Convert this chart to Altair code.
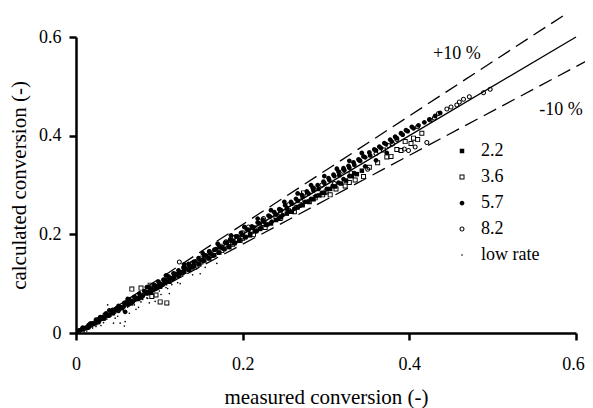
import altair as alt
import pandas as pd

# ---- data ----
series_names = ["2.2", "3.6", "5.7", "8.2", "low rate"]

s22_x = [0.008,0.018,0.028,0.039,0.050,0.061,0.072,0.084,0.095,0.107,0.118,0.130,0.142,0.154,0.166,0.178,0.190,0.203,0.215,0.228,0.240,0.253,0.266,0.279,0.292,0.305,0.318,0.331,0.343,
         0.013,0.023,0.033,0.044,0.055,0.066,0.078,0.089,0.101,0.112,0.124,0.136,0.148,0.160,0.172,0.184,0.196,0.209,0.221,0.234,0.246,0.259,0.272,0.285,0.298,0.311,0.324,0.337]
s22_y = [0.007,0.016,0.027,0.036,0.048,0.058,0.069,0.080,0.090,0.101,0.113,0.124,0.136,0.147,0.158,0.171,0.182,0.194,0.206,0.219,0.229,0.242,0.255,0.266,0.279,0.292,0.303,0.318,0.329,
         0.011,0.020,0.029,0.040,0.050,0.060,0.072,0.082,0.094,0.104,0.116,0.128,0.139,0.151,0.163,0.174,0.187,0.198,0.211,0.222,0.235,0.246,0.259,0.271,0.284,0.297,0.309,0.322]

s36_x = [0.067,0.078,0.089,0.091,0.096,0.101,0.109,0.140,0.155,0.173,0.185,0.197,0.210,0.225,0.240,0.255,0.273,0.287,0.305,0.323,0.335,0.345,0.369,0.373,0.385,0.395,0.405,0.415,0.020,0.035,0.050,0.120,0.265,0.300,
         0.150,0.162,0.175,0.188,0.200,0.213,0.227,0.245,0.262,0.280,0.296,0.312,0.328,0.352,0.362,0.378,0.390,0.402,0.410]
s36_y = [0.089,0.091,0.097,0.074,0.077,0.063,0.061,0.141,0.156,0.176,0.183,0.188,0.206,0.222,0.236,0.248,0.284,0.274,0.280,0.298,0.310,0.317,0.371,0.357,0.372,0.388,0.395,0.405,0.019,0.036,0.049,0.118,0.255,0.286,
         0.144,0.157,0.167,0.180,0.192,0.200,0.214,0.232,0.246,0.266,0.280,0.292,0.305,0.336,0.345,0.358,0.370,0.384,0.392]

s57_x = [0.005,0.010,0.015,0.020,0.026,0.031,0.037,0.042,0.048,0.054,0.060,0.066,0.071,0.077,0.083,0.089,0.095,0.101,0.107,0.113,0.119,0.125,0.131,0.137,0.143,0.150,0.156,0.162,0.168,0.175,0.181,0.188,0.194,0.200,0.207,0.213,0.220,0.226,0.233,0.240,0.246,0.253,0.259,0.266,0.272,0.279,0.285,0.291,0.298,0.304,0.310,0.316,0.322,0.328,0.334,0.341,0.347,0.353,0.360,0.366,0.372,0.379,0.385,0.392,0.398,0.405,0.411,0.418,0.424,0.431,0.437,
         0.012,0.023,0.034,0.045,0.057,0.068,0.080,0.092,0.104,0.116,0.128,0.140,0.153,0.165,0.178,0.191,0.204,0.217,0.230,0.243,0.256,0.269,0.282,0.295,0.308,0.321,0.334,0.347,0.360,0.373,0.059,
         0.003,0.008,0.017,0.024,0.029,0.036,0.044,0.051,0.058,0.064,0.070,0.076,0.082,0.088,0.094,0.099,0.105,0.111,0.117,0.123,0.129,0.135,0.141,0.147,0.154,0.160,0.166,0.172,0.179,0.185,0.192,0.198,0.205,0.211,0.218,0.224,0.231,0.238,0.244,0.251,0.258,0.264,0.271,0.277,0.284,0.290,0.297,0.303,0.309,0.315,0.321,0.327,0.333,0.339,0.345,0.352,0.358,0.364,0.370,0.377,0.383,0.390,0.396,0.403,
         0.015,0.027,0.039,0.051,0.063,0.075,0.087,0.099,0.111,0.123,0.135,0.147,0.159,0.171,0.183,0.196,0.209,0.222,0.235,0.248,0.262,0.275,0.288,0.301,0.315,0.328,
         0.040,0.062,0.085,0.108,0.130,0.152,0.170,0.186,0.202,0.218,0.234,0.250,0.266,0.282,0.298,0.313,0.328,0.343]
s57_y = [0.006,0.009,0.016,0.019,0.027,0.030,0.038,0.040,0.049,0.052,0.061,0.064,0.072,0.075,0.084,0.087,0.096,0.099,0.108,0.111,0.120,0.122,0.132,0.135,0.145,0.148,0.157,0.160,0.170,0.173,0.183,0.186,0.196,0.199,0.209,0.214,0.222,0.225,0.236,0.240,0.249,0.252,0.262,0.268,0.276,0.283,0.289,0.292,0.304,0.310,0.318,0.320,0.330,0.335,0.341,0.349,0.356,0.360,0.370,0.375,0.383,0.388,0.395,0.402,0.409,0.415,0.421,0.427,0.433,0.440,0.446,
         0.010,0.020,0.031,0.041,0.053,0.063,0.075,0.087,0.098,0.110,0.121,0.133,0.146,0.157,0.170,0.183,0.195,0.207,0.220,0.232,0.246,0.258,0.272,0.284,0.298,0.312,0.324,0.338,0.350,0.365,0.043,
         0.005,0.011,0.019,0.027,0.032,0.040,0.047,0.055,0.061,0.068,0.073,0.080,0.085,0.092,0.097,0.104,0.108,0.115,0.121,0.127,0.133,0.140,0.144,0.152,0.158,0.165,0.169,0.176,0.183,0.190,0.196,0.203,0.210,0.216,0.224,0.230,0.238,0.245,0.251,0.259,0.266,0.272,0.280,0.287,0.294,0.300,0.307,0.314,0.321,0.327,0.334,0.339,0.346,0.352,0.358,0.366,0.372,0.378,0.385,0.392,0.398,0.405,0.411,0.418,
         0.011,0.022,0.035,0.045,0.058,0.069,0.081,0.093,0.104,0.117,0.128,0.140,0.152,0.163,0.176,0.188,0.201,0.213,0.226,0.239,0.252,0.266,0.278,0.292,0.305,0.318,
         0.046,0.069,0.093,0.117,0.139,0.162,0.181,0.198,0.215,0.232,0.249,0.266,0.283,0.300,0.318,0.333,0.349,0.365]

s82_x = [0.124,0.150,0.180,0.200,0.207,0.215,0.245,0.270,0.295,0.330,0.350,0.394,0.399,0.407,0.421,0.445,0.457,0.460,0.465,0.472,0.489,0.497,0.060,0.090,0.030,0.310,0.380,0.430,
         0.160,0.190,0.225,0.255,0.285,0.320,0.340,0.360,0.375,0.385,0.410,0.425,0.435,0.450]
s82_y = [0.144,0.152,0.185,0.203,0.215,0.213,0.243,0.268,0.300,0.325,0.332,0.373,0.370,0.377,0.386,0.454,0.462,0.468,0.474,0.479,0.487,0.494,0.062,0.091,0.031,0.303,0.383,0.436,
         0.165,0.194,0.232,0.260,0.294,0.328,0.350,0.364,0.380,0.392,0.418,0.432,0.445,0.458]

low_x = [0.005,0.008,0.012,0.015,0.018,0.022,0.025,0.028,0.032,0.035,0.038,0.042,0.045,0.048,0.052,0.055,0.059,0.062,0.066,0.070,0.074,0.078,0.082,0.086,0.090,0.095,0.100,0.105,0.110,0.118,0.125,0.135,0.149,0.160,0.169,0.030,0.040,0.058,0.075,0.095,0.020,0.010,0.050,0.085,0.115,
         0.013,0.017,0.024,0.027,0.033,0.037,0.044,0.047,0.053,0.057,0.064,0.068,0.072,0.080,0.088,0.092,0.102,0.108,0.112,0.122,0.128,0.140,0.145,0.155]
low_y = [0.002,0.006,0.008,0.014,0.012,0.017,0.022,0.020,0.026,0.030,0.057,0.034,0.020,0.041,0.044,0.050,0.023,0.052,0.060,0.057,0.068,0.063,0.075,0.070,0.082,0.088,0.085,0.096,0.090,0.107,0.100,0.128,0.120,0.150,0.141,0.015,0.045,0.014,0.052,0.064,0.010,0.000,0.034,0.071,0.098,
         0.004,0.011,0.013,0.024,0.021,0.028,0.038,0.030,0.020,0.044,0.040,0.062,0.048,0.068,0.061,0.080,0.078,0.092,0.080,0.102,0.115,0.118,0.130,0.133]

# reference lines: parity and +/-10 %
parity_x = [0.0, 0.6]
parity_y = [0.0, 0.6]
plus_x = [0.0, 0.585]
plus_y = [0.0, 0.6435]
minus_x = [0.0, 0.617]
minus_y = [0.0, 0.5553]

ann_text = ["+10 %", "-10 %"]
ann_x = [0.457, 0.582]
ann_y = [0.565, 0.452]

ticks = [0, 0.2, 0.4, 0.6]

# ---- marker glyphs (unit paths; open ones are rings with a hole) ----
SQ_FILLED = "M-0.9,-0.9H0.9V0.9H-0.9Z"
SQ_OPEN = "M-1,-1H1V1H-1Z M-0.62,-0.62V0.62H0.62V-0.62Z"
CI_FILLED = "M-0.95,0A0.95,0.95,0,1,0,0.95,0A0.95,0.95,0,1,0,-0.95,0Z"
CI_OPEN = "M-1,0A1,1,0,1,0,1,0A1,1,0,1,0,-1,0Z M-0.6,0A0.6,0.6,0,1,1,0.6,0A0.6,0.6,0,1,1,-0.6,0Z"
DOT = "M-0.34,0A0.34,0.34,0,1,0,0.34,0A0.34,0.34,0,1,0,-0.34,0Z"
glyphs = [SQ_FILLED, SQ_OPEN, CI_FILLED, CI_OPEN, DOT]

# ---- build tables ----
rows = []
for name, xs_, ys_ in [("2.2", s22_x, s22_y), ("3.6", s36_x, s36_y), ("5.7", s57_x, s57_y),
                       ("8.2", s82_x, s82_y), ("low rate", low_x, low_y)]:
    for a, b in zip(xs_, ys_):
        rows.append({"series": name, "x": a, "y": b})
pts = pd.DataFrame(rows)

lines = pd.DataFrame(
    [{"line": "parity", "x": a, "y": b} for a, b in zip(parity_x, parity_y)] +
    [{"line": "plus", "x": a, "y": b} for a, b in zip(plus_x, plus_y)] +
    [{"line": "minus", "x": a, "y": b} for a, b in zip(minus_x, minus_y)]
)
ann = pd.DataFrame({"t": ann_text, "x": ann_x, "y": ann_y})

FONT = "Liberation Serif"

xs = alt.Scale(domain=[0, 0.6], nice=False, zero=True)
ys = alt.Scale(domain=[0, 0.6], nice=False, zero=True)

xaxis = alt.Axis(title="measured conversion (-)", values=ticks, format="~g", grid=False,
                 labelFontSize=18, titleFontSize=21, labelFont=FONT, titleFont=FONT,
                 domainColor="black", domainWidth=2.5, tickColor="black", tickWidth=2.5, tickSize=7,
                 labelColor="black", titleColor="black", labelPadding=15, titlePadding=13,
                 titleFontWeight="normal", labelFlush=False,
                 labelOffset={"condition": {"test": "datum.value >= 0.59", "value": -3}, "value": 0})
yaxis = alt.Axis(title="calculated conversion (-)", values=ticks, format="~g", grid=False,
                 labelFontSize=18, titleFontSize=21, labelFont=FONT, titleFont=FONT,
                 domainColor="black", domainWidth=2.5, tickColor="black", tickWidth=2.5, tickSize=7,
                 labelColor="black", titleColor="black", labelPadding=8, titlePadding=9,
                 titleFontWeight="normal", labelFlush=False)

solid = alt.Chart(lines[lines.line == "parity"]).mark_line(color="black", strokeWidth=1.3).encode(
    x=alt.X("x:Q", scale=xs, axis=xaxis), y=alt.Y("y:Q", scale=ys, axis=yaxis))
dashed = alt.Chart(lines[lines.line != "parity"]).mark_line(
    color="black", strokeWidth=1.3, strokeDash=[14, 7]).encode(
    x=alt.X("x:Q", scale=xs), y=alt.Y("y:Q", scale=ys), detail="line:N")

points = alt.Chart(pts).mark_point(filled=True, color="black", size=25, opacity=1,
                                   strokeWidth=0).encode(
    x=alt.X("x:Q", scale=xs),
    y=alt.Y("y:Q", scale=ys),
    shape=alt.Shape("series:N", scale=alt.Scale(domain=series_names, range=glyphs),
                    legend=alt.Legend(title=None, symbolFillColor="black", symbolSize=25,
                                      symbolStrokeWidth=0, symbolOpacity=1)),
)

texts = alt.Chart(ann).mark_text(font=FONT, fontSize=18, color="black").encode(
    x=alt.X("x:Q", scale=xs), y=alt.Y("y:Q", scale=ys), text="t:N")

chart = alt.layer(dashed, solid, points, texts).properties(
    width=500, height=296,
    autosize=alt.AutoSizeParams(type="none"),
    padding={"left": 68, "top": 29, "right": 9, "bottom": 75},
).configure(font=FONT).configure_view(stroke=None).configure_legend(
    orient="none", legendX=377, legendY=105, labelFont=FONT, labelFontSize=18,
    labelColor="black", rowPadding=8, labelOffset=10,
)

chart.save("out.html", embed_options={"renderer": "svg", "actions": False})
